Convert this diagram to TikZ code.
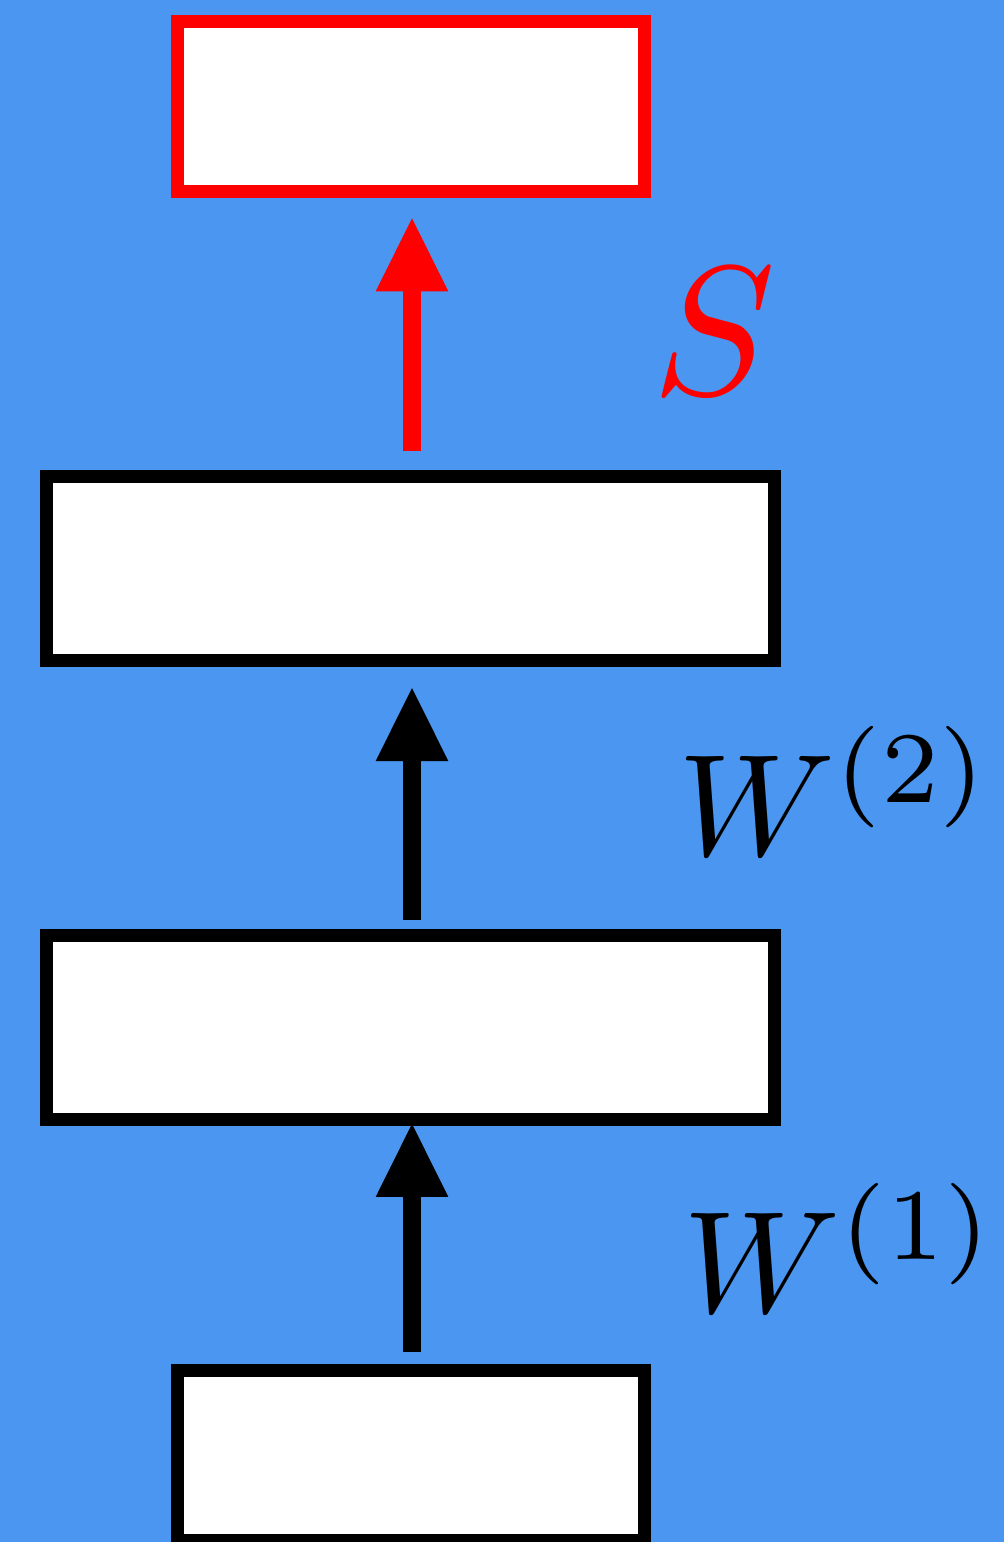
\RequirePackage{fix-cm}
\documentclass[tikz,border=0pt]{standalone}
\usetikzlibrary{arrows.meta}
\definecolor{bgblue}{RGB}{75,150,240}
\definecolor{pured}{RGB}{255,0,0}
\tikzset{
  layerbox/.style={draw=black, fill=white, line width=13pt, inner sep=0pt, minimum width=727.4pt, minimum height=183.4pt},
  endbox/.style={layerbox, minimum width=467.6pt, minimum height=170pt},
  uparrow/.style={line width=18.7pt, -{Triangle[length=73pt,width=72.6pt,line width=0pt]}},
  lbl/.style={inner sep=0pt, anchor=base west},
}
\begin{document}
\begin{tikzpicture}[x=1pt,y=-1pt]
\fill[bgblue] (0,0) rectangle (1004,1542);
\useasboundingbox (0,0) rectangle (1004,1542);
\node[endbox, draw=pured] (b1) at (411,106.2) {};
\node[layerbox] (b2) at (410.5,568.5) {};
\node[layerbox] (b3) at (410.5,1027.35) {};
\node[endbox] (b4) at (411,1455) {};
\draw[uparrow, draw=pured, fill=pured, shorten <=19.6pt, shorten >=20.6pt] (b2.north -| 412,0) -- (b1.south -| 412,0);
\draw[uparrow, shorten <=9pt, shorten >=21.3pt] (b3.north -| 412,0) -- (b2.south -| 412,0);
\draw[uparrow, shorten <=11.4pt, shorten >=-1.7pt] (b4.north -| 412,0) -- (b3.south -| 412,0);
\node[lbl, text=pured, scale=18.4] (s) at (649,394) {$S$};
\node[lbl, scale=14.5] (w2) at (676,855) {$W^{(2)}$};
\node[lbl, scale=14.5] (w1) at (681,1312) {$W^{(1)}$};
\end{tikzpicture}
\end{document}
